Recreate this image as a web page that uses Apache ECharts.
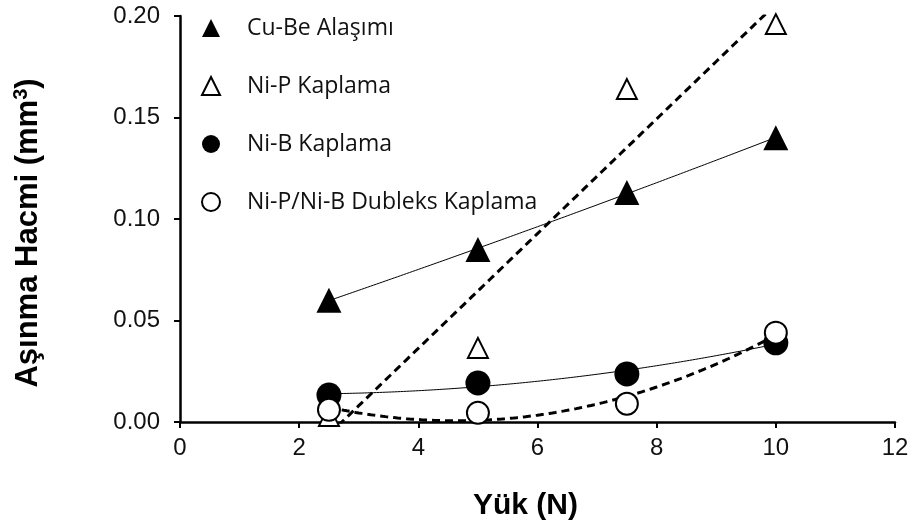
<!DOCTYPE html>
<html><head><meta charset="utf-8">
<script src="https://cdn.jsdelivr.net/npm/echarts@6/dist/echarts.min.js"></script>
<style>html,body{margin:0;padding:0;background:#fff}#c{width:914px;height:528px}</style>
</head><body><div id="c"></div>
<script>
// Data
const loads = [2.5, 5, 7.5, 10];
const cuBe = [0.060, 0.085, 0.113, 0.140];
const niP = [0.003, 0.0365, 0.164, 0.196];
const niB = [0.0133, 0.0192, 0.0237, 0.039];
const niPniB = [0.006, 0.0045, 0.009, 0.044];
const seriesNames = ['Cu-Be Alaşımı', 'Ni-P Kaplama', 'Ni-B Kaplama', 'Ni-P/Ni-B Dubleks Kaplama'];

// Least-squares trendlines (as in the original spreadsheet chart)
function polyFit(xs, ys, deg) {
  const n = deg + 1;
  const A = [], b = [];
  for (let i = 0; i < n; i++) {
    A.push([]);
    for (let j = 0; j < n; j++) A[i].push(xs.reduce((s, x) => s + Math.pow(x, i + j), 0));
    b.push(xs.reduce((s, x, k) => s + Math.pow(x, i) * ys[k], 0));
  }
  for (let i = 0; i < n; i++) {
    let p = i;
    for (let r = i + 1; r < n; r++) if (Math.abs(A[r][i]) > Math.abs(A[p][i])) p = r;
    [A[i], A[p]] = [A[p], A[i]]; [b[i], b[p]] = [b[p], b[i]];
    for (let r = i + 1; r < n; r++) {
      const f = A[r][i] / A[i][i];
      for (let c = i; c < n; c++) A[r][c] -= f * A[i][c];
      b[r] -= f * b[i];
    }
  }
  const coef = new Array(n).fill(0);
  for (let i = n - 1; i >= 0; i--) {
    let s = b[i];
    for (let c = i + 1; c < n; c++) s -= A[i][c] * coef[c];
    coef[i] = s / A[i][i];
  }
  return coef;
}
function trend(xs, ys, deg) {
  const c = polyFit(xs, ys, deg);
  const out = [];
  const x0 = xs[0], x1 = xs[xs.length - 1];
  for (let k = 0; k <= 150; k++) {
    const x = x0 + (x1 - x0) * k / 150;
    let y = 0;
    for (let i = 0; i < c.length; i++) y += c[i] * Math.pow(x, i);
    out.push([x, y]);
  }
  return out;
}
const pts = ys => loads.map((x, i) => [x, ys[i]]);

const chart = echarts.init(document.getElementById('c'));
const font = 'Liberation Sans, Arial, sans-serif';
const solidLine = { color: '#000', width: 1 };
const dashLine = { color: '#000', width: 3, type: [8, 5] };

chart.setOption({
  animation: false,
  backgroundColor: '#fff',
  grid: { left: 180, right: 19, top: 16, bottom: 106 },
  legend: {
    data: seriesNames,
    orient: 'vertical',
    left: 196, top: 11,
    itemWidth: 18, itemHeight: 18, itemGap: 34,
    textStyle: { fontFamily: 'Open Sans, Noto Sans, sans-serif', fontSize: 23, lineHeight: 24, color: '#111', padding: [0, 0, 0, 22] }
  },
  xAxis: {
    type: 'value', min: 0, max: 12, interval: 2,
    name: 'Yük (N)', nameLocation: 'middle', nameGap: 69,
    nameTextStyle: { fontFamily: font, fontSize: 30, fontWeight: 'bold', color: '#000', padding: [0, 24, 0, 0] },
    axisLine: { lineStyle: { color: '#000', width: 2.5 } },
    axisTick: { lineStyle: { color: '#000', width: 2 }, length: 6 },
    axisLabel: { fontFamily: font, fontSize: 24, color: '#111', margin: 14 },
    splitLine: { show: false }
  },
  yAxis: {
    type: 'value', min: 0, max: 0.2, interval: 0.05,
    name: 'Aşınma Hacmi (mm{sup|3})', nameLocation: 'middle', nameGap: 135,
    nameTextStyle: { fontFamily: font, fontSize: 31, fontWeight: 'bold', color: '#000', padding: [0, 28, 0, 0],
      rich: { sup: { fontFamily: font, fontSize: 20, fontWeight: 'bold', color: '#000', verticalAlign: 'top', padding: [0, 0, 14, 0] } } },
    axisLine: { show: true, lineStyle: { color: '#000', width: 2.5 } },
    axisTick: { show: true, lineStyle: { color: '#000', width: 2 }, length: 6 },
    axisLabel: { fontFamily: font, fontSize: 24, color: '#111', margin: 20, formatter: v => v.toFixed(2) },
    splitLine: { show: false }
  },
  series: [
    { name: 'trend1', type: 'line', data: trend(loads, cuBe, 2), showSymbol: false, lineStyle: solidLine, z: 2 },
    { name: 'trend2', type: 'line', data: trend(loads, niP, 1), showSymbol: false, lineStyle: dashLine, z: 2 },
    { name: 'trend3', type: 'line', data: trend(loads, niB, 2), showSymbol: false, lineStyle: solidLine, z: 2 },
    { name: 'trend4', type: 'line', data: trend(loads, niPniB, 2), showSymbol: false, lineStyle: dashLine, z: 2 },
    { name: seriesNames[0], type: 'scatter', data: pts(cuBe), symbol: 'triangle', symbolSize: 25,
      itemStyle: { color: '#000', opacity: 1 }, z: 3 },
    { name: seriesNames[1], type: 'scatter', data: pts(niP), symbol: 'triangle', symbolSize: 20,
      itemStyle: { color: '#fff', borderColor: '#000', borderWidth: 2, opacity: 1 }, z: 3 },
    { name: seriesNames[2], type: 'scatter', data: pts(niB), symbol: 'circle', symbolSize: 25,
      itemStyle: { color: '#000', opacity: 1 }, z: 3 },
    { name: seriesNames[3], type: 'scatter', data: pts(niPniB), symbol: 'circle', symbolSize: 22,
      itemStyle: { color: '#fff', borderColor: '#000', borderWidth: 2, opacity: 1 }, z: 3 }
  ]
});
</script></body></html>
